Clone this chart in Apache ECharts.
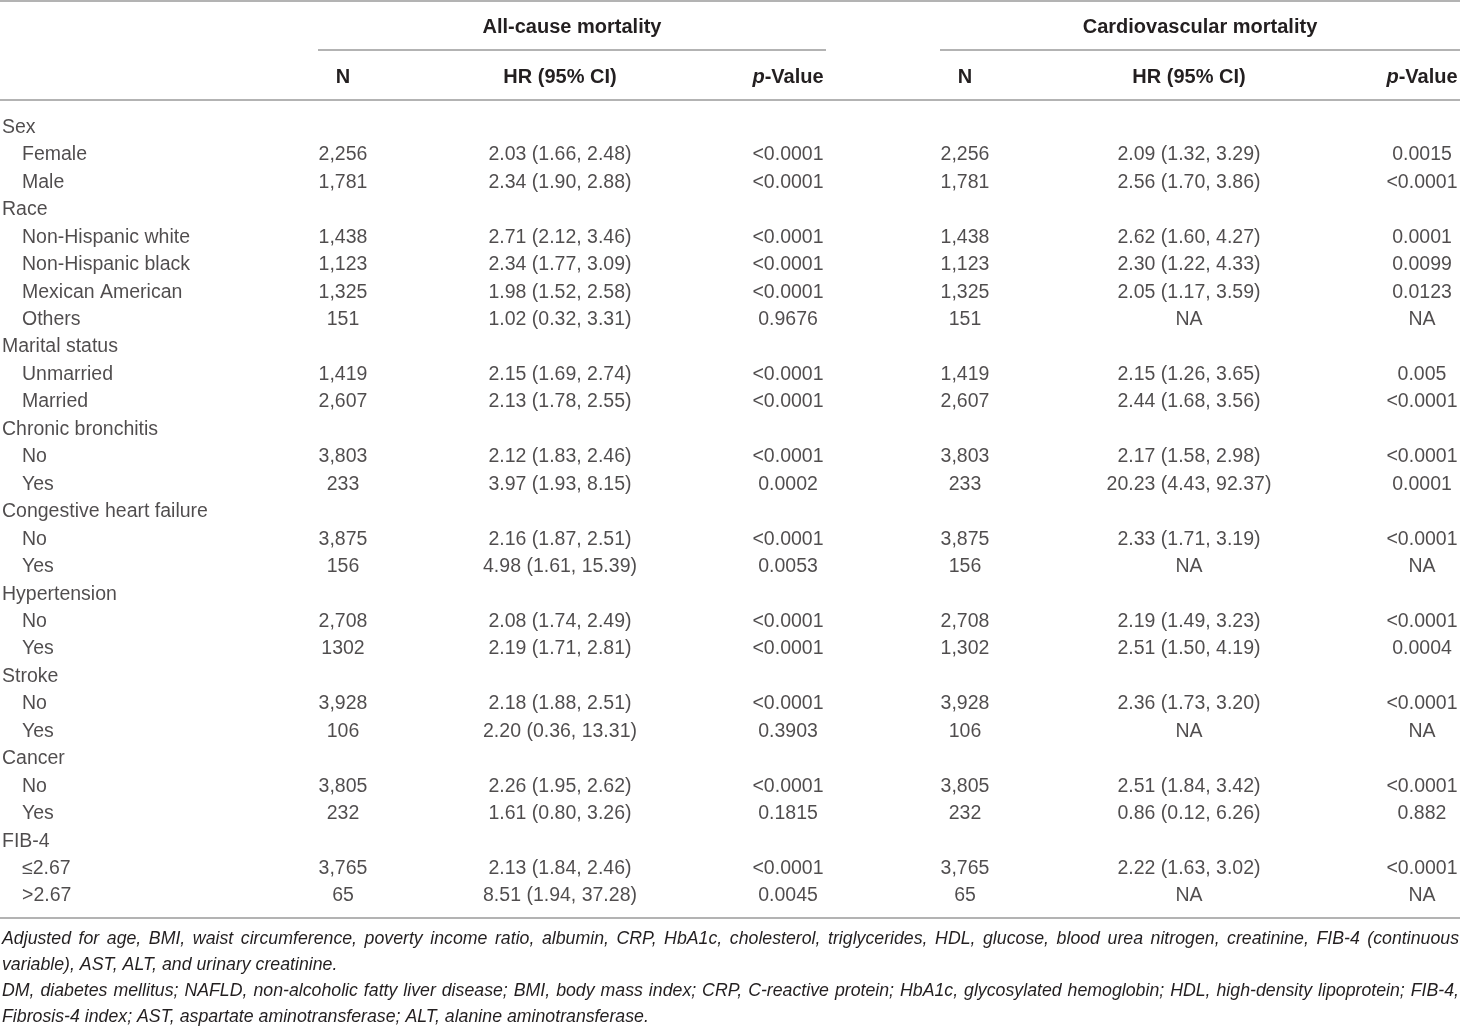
<!DOCTYPE html>
<html lang="en">
<head>
  <meta charset="UTF-8">
  <title>HR table</title>
  <style>
    html, body { margin: 0; padding: 0; background: #fff; }
    #table { width: 1460px; height: 1027px; }
  </style>
</head>
<body>
<div id="table"></div>
<script src="https://cdn.jsdelivr.net/npm/echarts@6.0.0/dist/echarts.min.js"></script>
<script>
  // rows of the table (0 = group heading, 1 = indented sub row)
  const rows = ['Sex', 'Female', 'Male', 'Race', 'Non-Hispanic white', 'Non-Hispanic black', 'Mexican American', 'Others',
    'Marital status', 'Unmarried', 'Married', 'Chronic bronchitis', 'No', 'Yes', 'Congestive heart failure', 'No', 'Yes',
    'Hypertension', 'No', 'Yes', 'Stroke', 'No', 'Yes', 'Cancer', 'No', 'Yes', 'FIB-4', '≤2.67', '>2.67'];
  const rowLevel = [0, 1, 1, 0, 1, 1, 1, 1, 0, 1, 1, 0, 1, 1, 0, 1, 1, 0, 1, 1, 0, 1, 1, 0, 1, 1, 0, 1, 1];

  // all-cause mortality
  const allN = ['', '2,256', '1,781', '', '1,438', '1,123', '1,325', '151', '', '1,419', '2,607', '', '3,803', '233', '',
    '3,875', '156', '', '2,708', '1302', '', '3,928', '106', '', '3,805', '232', '', '3,765', '65'];
  const allHR = ['', '2.03 (1.66, 2.48)', '2.34 (1.90, 2.88)', '', '2.71 (2.12, 3.46)', '2.34 (1.77, 3.09)', '1.98 (1.52, 2.58)',
    '1.02 (0.32, 3.31)', '', '2.15 (1.69, 2.74)', '2.13 (1.78, 2.55)', '', '2.12 (1.83, 2.46)', '3.97 (1.93, 8.15)', '',
    '2.16 (1.87, 2.51)', '4.98 (1.61, 15.39)', '', '2.08 (1.74, 2.49)', '2.19 (1.71, 2.81)', '', '2.18 (1.88, 2.51)',
    '2.20 (0.36, 13.31)', '', '2.26 (1.95, 2.62)', '1.61 (0.80, 3.26)', '', '2.13 (1.84, 2.46)', '8.51 (1.94, 37.28)'];
  const allP = ['', '<0.0001', '<0.0001', '', '<0.0001', '<0.0001', '<0.0001', '0.9676', '', '<0.0001', '<0.0001', '',
    '<0.0001', '0.0002', '', '<0.0001', '0.0053', '', '<0.0001', '<0.0001', '', '<0.0001', '0.3903', '', '<0.0001', '0.1815',
    '', '<0.0001', '0.0045'];

  // cardiovascular mortality
  const cvN = ['', '2,256', '1,781', '', '1,438', '1,123', '1,325', '151', '', '1,419', '2,607', '', '3,803', '233', '',
    '3,875', '156', '', '2,708', '1,302', '', '3,928', '106', '', '3,805', '232', '', '3,765', '65'];
  const cvHR = ['', '2.09 (1.32, 3.29)', '2.56 (1.70, 3.86)', '', '2.62 (1.60, 4.27)', '2.30 (1.22, 4.33)', '2.05 (1.17, 3.59)',
    'NA', '', '2.15 (1.26, 3.65)', '2.44 (1.68, 3.56)', '', '2.17 (1.58, 2.98)', '20.23 (4.43, 92.37)', '',
    '2.33 (1.71, 3.19)', 'NA', '', '2.19 (1.49, 3.23)', '2.51 (1.50, 4.19)', '', '2.36 (1.73, 3.20)', 'NA', '',
    '2.51 (1.84, 3.42)', '0.86 (0.12, 6.26)', '', '2.22 (1.63, 3.02)', 'NA'];
  const cvP = ['', '0.0015', '<0.0001', '', '0.0001', '0.0099', '0.0123', 'NA', '', '0.005', '<0.0001', '', '<0.0001',
    '0.0001', '', '<0.0001', 'NA', '', '<0.0001', '0.0004', '', '<0.0001', 'NA', '', '<0.0001', '0.882', '', '<0.0001', 'NA'];

  const groupTitles = ['All-cause mortality', 'Cardiovascular mortality'];
  const columnTitles = ['N', 'HR (95% CI)', '{i|p}-Value', 'N', 'HR (95% CI)', '{i|p}-Value'];

  const footnotes = [
    'Adjusted for age, BMI, waist circumference, poverty income ratio, albumin, CRP, HbA1c, cholesterol, triglycerides, HDL, glucose, blood urea nitrogen, creatinine, FIB-4 (continuous',
    'variable), AST, ALT, and urinary creatinine.',
    'DM, diabetes mellitus; NAFLD, non-alcoholic fatty liver disease; BMI, body mass index; CRP, C-reactive protein; HbA1c, glycosylated hemoglobin; HDL, high-density lipoprotein; FIB-4,',
    'Fibrosis-4 index; AST, aspartate aminotransferase; ALT, alanine aminotransferase.'
  ];
  const footJustify = [true, false, true, false];

  // layout (pixels on the x value axis)
  const W = 1460;
  const labelX = [2, 22];
  const columnX = [343, 560, 788, 965, 1189, 1422];
  const columns = [allN, allHR, allP, cvN, cvHR, cvP];
  const groupSpan = [[318, 826], [940, 1460]];

  const TEXT = '#231f20';
  const RULE = '#9a9a9a';
  const FONT = '"Liberation Sans", Arial, Helvetica, sans-serif';
  const bodySize = 19.5;

  // footnotes: italic, slightly squeezed, justified lines spread over the full width
  const footFont = 'italic 18px ' + FONT;
  const squeeze = 0.985;
  const mctx = document.createElement('canvas').getContext('2d');

  function footLine(text, y, justify) {
    mctx.font = footFont;
    const words = text.split(' ');
    const widths = words.map(w => mctx.measureText(w).width * squeeze);
    const sum = widths.reduce((a, b) => a + b, 0);
    const left = 2, right = W - 1;
    const gap = justify ? (right - left - sum) / (words.length - 1) : mctx.measureText(' ').width * squeeze;
    let x = left;
    return words.map((w, k) => {
      const el = {
        type: 'text', x: x, y: y, scaleX: squeeze, silent: true,
        style: { text: w, font: footFont, fill: TEXT, textVerticalAlign: 'middle' }
      };
      x += widths[k] + gap;
      return el;
    });
  }

  function hline(x1, x2, y, width) {
    return { type: 'line', silent: true, shape: { x1: x1, y1: y, x2: x2, y2: y },
      style: { stroke: RULE, lineWidth: width || 1.3 } };
  }

  const graphics = [
    hline(0, W, 1, 1.6),
    hline(groupSpan[0][0], groupSpan[0][1], 50),
    hline(groupSpan[1][0], groupSpan[1][1], 50),
    hline(0, W, 100),
    hline(0, W, 918)
  ];
  groupTitles.forEach((t, k) => {
    graphics.push({
      type: 'text', x: (groupSpan[k][0] + groupSpan[k][1]) / 2, y: 27, silent: true,
      style: { text: t, fill: TEXT, font: 'bold 20px ' + FONT, textAlign: 'center', textVerticalAlign: 'middle' }
    });
  });
  columnTitles.forEach((t, k) => {
    graphics.push({
      type: 'text', x: columnX[k], y: 77, silent: true,
      style: {
        text: t, fill: TEXT, font: 'bold 20px ' + FONT, textAlign: 'center', textVerticalAlign: 'middle',
        rich: { i: { fontStyle: 'italic', fontWeight: 'bold', fontSize: 20, fontFamily: FONT, fill: TEXT } }
      }
    });
  });
  footnotes.forEach((t, k) => {
    footLine(t, 939 + k * 26, footJustify[k]).forEach(el => graphics.push(el));
  });

  const cellLabel = {
    show: true, color: TEXT, fontFamily: FONT, fontSize: bodySize
  };

  const series = [{
    type: 'scatter',
    symbolSize: 0,
    silent: true,
    data: rows.map((r, i) => [labelX[rowLevel[i]], i]),
    label: Object.assign({}, cellLabel, {
      position: 'right', distance: 0,
      formatter: p => rows[p.dataIndex]
    })
  }];
  columns.forEach((col, k) => {
    const idx = col.map((v, i) => i).filter(i => col[i] !== '');
    series.push({
      type: 'scatter',
      symbolSize: 0,
      silent: true,
      data: idx.map(i => [columnX[k], i]),
      label: Object.assign({}, cellLabel, {
        position: 'inside', align: 'center',
        formatter: p => col[idx[p.dataIndex]]
      })
    });
  });

  const rowH = 27.45;
  const firstRowY = 127.5;
  const gridTop = firstRowY - rowH / 2;
  const gridBottom = 1027 - (gridTop + rows.length * rowH);

  const chart = echarts.init(document.getElementById('table'), null, { renderer: 'canvas' });
  chart.setOption({
    animation: false,
    backgroundColor: '#fff',
    grid: { left: 0, right: 0, top: gridTop, bottom: gridBottom },
    xAxis: { type: 'value', min: 0, max: W, show: false },
    yAxis: { type: 'value', min: -0.5, max: rows.length - 0.5, inverse: true, show: false },
    graphic: graphics,
    series: series
  });
</script>
</body>
</html>
